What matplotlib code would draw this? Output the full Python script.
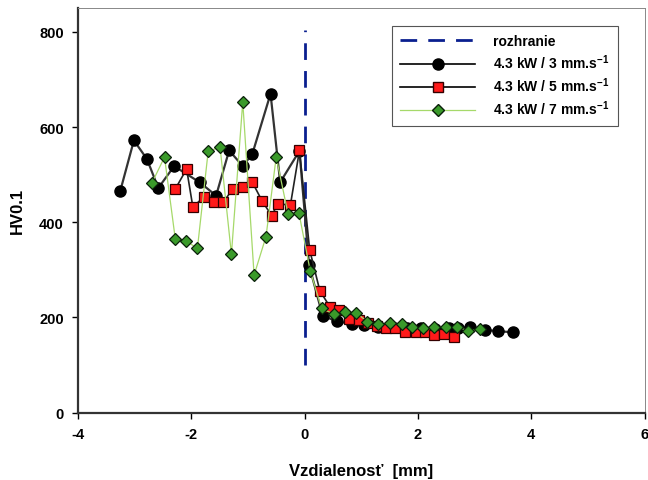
import matplotlib
matplotlib.use("Agg")
import matplotlib.pyplot as plt
from matplotlib.lines import Line2D

plt.rcParams['font.family'] = ['Liberation Sans', 'DejaVu Sans']
plt.rcParams['mathtext.fontset'] = 'custom'
plt.rcParams['mathtext.rm'] = 'Liberation Sans:bold'
plt.rcParams['mathtext.bf'] = 'Liberation Sans:bold'
plt.rcParams['axes.unicode_minus'] = False

# ---- data ----
x_3 = [-3.25, -3.01, -2.78, -2.58, -2.30, -1.85, -1.56, -1.33, -1.09, -0.92, -0.60, -0.43, -0.09,
       0.08, 0.32, 0.58, 0.83, 1.05, 1.30, 1.55, 1.80, 2.05, 2.30, 2.55, 2.70, 2.92, 3.19, 3.42, 3.68]
y_3 = [466, 572, 533, 472, 518, 484, 456, 551, 518, 544, 670, 484, 550,
       310, 203, 192, 186, 184, 180, 179, 177, 178, 176, 177, 178, 180, 174, 171, 169]

x_5 = [-2.28, -2.08, -1.97, -1.77, -1.60, -1.43, -1.27, -1.09, -0.92, -0.75, -0.58, -0.47, -0.25, -0.09,
       0.09, 0.27, 0.45, 0.61, 0.79, 0.96, 1.12, 1.28, 1.43, 1.60, 1.78, 1.97, 2.13, 2.29, 2.46, 2.63]
y_5 = [470, 512, 432, 454, 442, 442, 470, 475, 484, 445, 414, 439, 436, 551,
       342, 256, 222, 216, 196, 195, 188, 182, 177, 178, 170, 169, 170, 163, 166, 158]

x_7 = [-2.69, -2.47, -2.28, -2.09, -1.89, -1.70, -1.49, -1.29, -1.09, -0.89, -0.68, -0.50, -0.29, -0.10,
       0.10, 0.30, 0.52, 0.72, 0.91, 1.11, 1.30, 1.50, 1.71, 1.90, 2.09, 2.29, 2.49, 2.69, 2.89, 3.09]
y_7 = [483, 537, 365, 361, 345, 549, 558, 333, 653, 289, 370, 537, 417, 420,
       298, 219, 207, 212, 210, 191, 186, 188, 186, 179, 177, 179, 180, 180, 172, 175]

interface_x = [0, 0]
interface_y = [100, 805]

labels = ['rozhranie',
          r'4.3 kW / 3 mm.s$^{-1}$',
          r'4.3 kW / 5 mm.s$^{-1}$',
          r'4.3 kW / 7 mm.s$^{-1}$']

# ---- figure ----
fig = plt.figure(figsize=(6.48, 4.81), dpi=100)
ax = fig.add_axes([0.120, 0.140, 0.875, 0.841])

ax.plot(interface_x, interface_y, color='#0a1f8f', lw=2.0, dashes=(6, 4), zorder=1)
ax.plot(x_3, y_3, color='#333333', lw=1.6, marker='o', ms=8,
        mfc='black', mec='black', zorder=2)
ax.plot(x_5, y_5, color='#222222', lw=1.2, marker='s', ms=6.8,
        mfc='#ff1a1a', mec='#330000', mew=0.9, zorder=3)
ax.plot(x_7, y_7, color='#a6d96a', lw=0.9, marker='D', ms=5.8,
        mfc='#3a9a2a', mec='#0a200a', mew=0.9, zorder=4)

ax.set_xlim(-4, 6)
ax.set_ylim(0, 850)
ax.set_xticks([-4, -2, 0, 2, 4, 6])
ax.set_yticks([0, 200, 400, 600, 800])
ax.tick_params(direction='out', length=4, width=1.0, labelsize=10.5, pad=6)
for lab in ax.get_xticklabels() + ax.get_yticklabels():
    lab.set_fontweight('bold')

ax.spines['left'].set_linewidth(1.6)
ax.spines['bottom'].set_linewidth(1.6)
ax.spines['left'].set_color('#333333')
ax.spines['bottom'].set_color('#333333')
ax.spines['top'].set_linewidth(0.7)
ax.spines['right'].set_linewidth(0.7)
ax.spines['top'].set_color('#888888')
ax.spines['right'].set_color('#888888')

ax.set_xlabel('Vzdialenosť  [mm]', fontsize=12, fontweight='bold', labelpad=16)
ax.set_ylabel('HV0.1', fontsize=12, fontweight='bold', labelpad=10)

handles = [
    Line2D([], [], color='#0a1f8f', lw=2.0, dashes=(6, 4)),
    Line2D([], [], color='black', lw=1.2, marker='o', ms=8, mfc='black', mec='black'),
    Line2D([], [], color='black', lw=1.2, marker='s', ms=6.8, mfc='#ff1a1a', mec='#330000'),
    Line2D([], [], color='#a6d96a', lw=0.9, marker='D', ms=5.8, mfc='#3a9a2a', mec='#0a200a'),
]
leg = ax.legend(handles, labels, loc='upper right', bbox_to_anchor=(0.965, 0.973),
                fancybox=False, edgecolor='#555555', framealpha=1,
                prop={'weight': 'bold', 'size': 10}, handlelength=5.4,
                borderpad=0.6, labelspacing=0.32, handletextpad=1.3)
leg.get_frame().set_linewidth(0.8)

fig.savefig('out.png', dpi=100)
